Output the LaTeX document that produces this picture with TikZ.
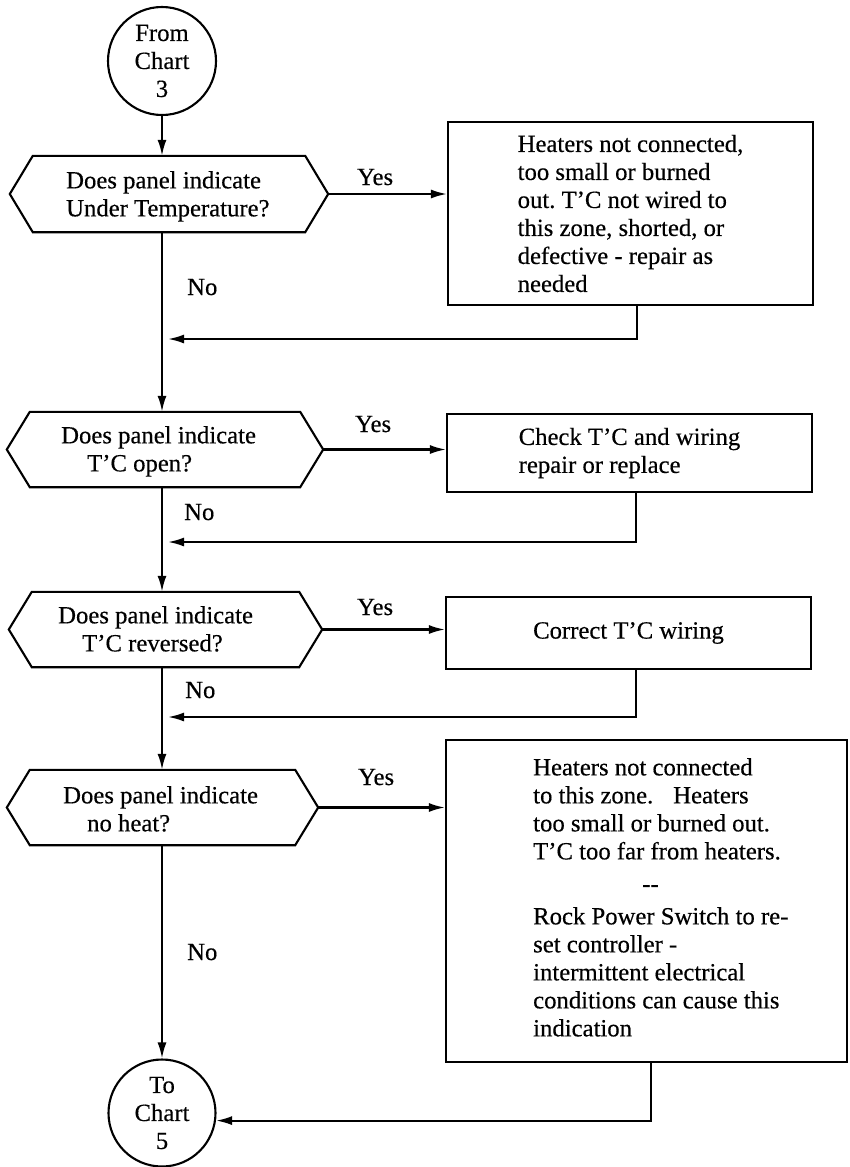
\documentclass[tikz,border=0pt]{standalone}
\usepackage{fontspec}
\setmainfont{Liberation Serif}[FakeBold=0.4]
\usetikzlibrary{arrows.meta,calc}
\newcommand\hexdraw[1]{\draw[ln, line join=miter] (#1.west) -- ([xshift=23pt]#1.north west) -- ([xshift=-23pt]#1.north east) -- (#1.east) -- ([xshift=-23pt]#1.south east) -- ([xshift=23pt]#1.south west) -- cycle;}
\begin{document}
\begin{tikzpicture}[x=1pt,y=-1pt,
  every node/.style={font=\fontsize{24.7}{28}\selectfont\frenchspacing, inner sep=0pt},
  ln/.style={line width=2.1pt},
  arr/.style={ln, -{Latex[length=16pt,width=9pt]}},
  conn/.style={circle, draw, ln, minimum size=108pt, align=center},
  hexa/.style={minimum height=75pt},
  boxn/.style={draw, ln, align=left},
  txt/.style={align=left, anchor=north west},
  lbl/.style={anchor=base west}
]
\useasboundingbox (0,0) rectangle (849,1167);

% terminals
\node[conn] (c1) at (162,61) {From\\Chart\\3};
\node[conn, minimum size=107pt] (c2) at (162,1113) {To\\Chart\\5};

% decisions
\node[hexa, minimum width=318pt, minimum height=76pt] (d1) at (169,194) {};
\node[hexa, minimum width=316pt] (d2) at (165,449.5) {};
\node[hexa, minimum width=313pt] (d3) at (165.5,629.5) {};
\node[hexa, minimum width=311pt] (d4) at (162.5,807.5) {};
\hexdraw{d1}\hexdraw{d2}\hexdraw{d3}\hexdraw{d4}

\node[txt] (t1) at (66,171) {Does panel indicate\\Under Temperature?};
\node[txt] (t2) at (61,426) {Does panel indicate\\\hspace*{26pt}T’C open?};
\node[txt] (t3) at (58,606) {Does panel indicate\\\hspace*{24pt}T’C reversed?};
\node[txt] (t4) at (63,786) {Does panel indicate\\\hspace*{24pt}no heat?};

% action boxes
\node[boxn, minimum width=365pt, minimum height=183pt] (b1) at (630.5,213.5)
  {Heaters not connected,\\too small or burned\\out. T’C not wired to\\this zone, shorted, or\\defective - repair as\\needed};
\node[boxn, minimum width=365pt, minimum height=78pt] (b2) at (629.5,453)
  {Check T’C and wiring\\repair or replace};
\node[boxn, minimum width=365pt, minimum height=72pt] (b3) at (628.5,633)
  {Correct T’C wiring};
\node[boxn, minimum width=401pt, minimum height=322pt] (b4) at (646.5,901) {};
\node[txt] (t8) at (533,758) {Heaters not connected\\to this zone.\hspace{20pt}Heaters\\too small or burned out.\\T’C too far from heaters.\\[4.5pt]\hspace*{109pt}-{}-\\[4.5pt]Rock Power Switch to re-\\set controller -\\intermittent electrical\\conditions can cause this\\indication};

% labels
\node[lbl] (y1) at (357,185) {Yes};
\node[lbl] (y2) at (355,432) {Yes};
\node[lbl] (y3) at (357,615) {Yes};
\node[lbl] (y4) at (358,785) {Yes};
\node[lbl] (n1) at (187,295) {No};
\node[lbl] (n2) at (184,520) {No};
\node[lbl] (n3) at (185,698) {No};
\node[lbl] (n4) at (187,960) {No};

% main spine
\draw[arr] (c1.south) -- (c1.south |- d1.north);
\draw[arr] (c1.south |- d1.south) -- (c1.south |- d2.north);
\draw[arr] (c1.south |- d2.south) -- (c1.south |- d3.north);
\draw[arr] (c1.south |- d3.south) -- (c1.south |- d4.north);
\draw[arr] (c1.south |- d4.south) -- (c2.north);

% yes branches
\draw[arr] (d1.east) -- (d1.east -| b1.west);
\draw[arr] (d2.east) -- (d2.east -| b2.west);
\draw[arr] (d3.east) -- (d3.east -| b3.west);
\draw[arr] (d4.east) -- (d4.east -| b4.west);

% returns
\coordinate (j1) at (168,339);
\coordinate (j2) at (168,542);
\coordinate (j3) at (168,717);
\draw[arr] ([xshift=6.5pt]b1.south) |- (j1);
\draw[arr] ([xshift=6.5pt]b2.south) |- (j2);
\draw[arr] ([xshift=7.5pt]b3.south) |- (j3);
\draw[arr] ([xshift=4.5pt]b4.south) |- (c2.-8);
\end{tikzpicture}
\end{document}
